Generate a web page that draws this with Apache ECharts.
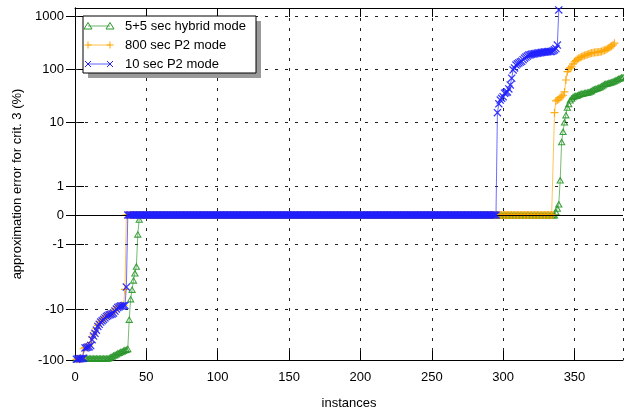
<!DOCTYPE html>
<html>
<head>
<meta charset="utf-8">
<script src="https://cdn.jsdelivr.net/npm/echarts@6/dist/echarts.min.js"></script>
<style>
  html, body { margin: 0; padding: 0; background: #fff; }
  #chart { width: 624px; height: 415px; }
</style>
</head>
<body>
<div id="chart"></div>
<script>
// y tick values and where they sit on the (pixel-like) transformed axis
const tickVals = [-100, -10, -1, 0, 1, 10, 100, 1000];
const tickPos = [-145, -94, -29, 0, 29, 93, 146, 199];

const seriesNames = ['5+5 sec hybrid mode', '800 sec P2 mode', '10 sec P2 mode'];

// errors per instance (%), sorted, instance 1..n
const hybridVals = [
  ...Array(23).fill(-92),
  -90, -87, -84, -81, -79, -76, -73, -71, -69, -67, -65, -63, -62, -60,
  -16, -7, -5, -3.6, -2.8, -2.2, -0.66, -0.15,
  ...Array(291).fill(0),
  0.11, 0.23, 0.38, 1.24, 4.9, 7.1, 10, 13.6, 19, 22, 26, 28, 30, 31, 31.5, 32,
  33, 34, 34.5, 35, 35.5, 36, 36.5, 37, 38, 39, 41, 42, 43, 44, 45, 46,
  48, 50, 52, 53, 54, 55, 56, 57, 59, 60, 62, 64, 66, 68, 70, 71
];
const p2longVals = [
  -97, -96, -95, -94, -92, -60, -57, -56, -55, -53, -45, -36, -32, -28, -24, -21,
  -19, -17.5, -16.5, -15.5, -14.5, -13.8, -13.2, -12.8, -12.5, -12, -11.5, -10.5,
  -9.8, -9.3, -9.1, -9, -8.9, -8.8, -5,
  ...Array(300).fill(0),
  15, 25, 26, 27, 29, 30, 32, 37, 62, 89, 100, 105, 110, 125, 137, 145, 152, 160,
  165, 170, 175, 180, 183, 187, 192, 197, 200, 203, 205, 207, 208, 210, 212, 215,
  220, 225, 230, 240, 250, 260, 270, 285, 307
];
const p2shortVals = [
  -97, -96, -95, -94, -93, -92, -58, -57, -56, -55, -52, -40, -34, -30, -26, -22,
  -20, -18, -17, -16, -15, -14, -13.5, -13, -12.8, -12.5, -12, -11, -10, -9.5,
  -9.2, -9, -9, -8.9, -8.8, -4.6,
  ...Array(259).fill(0),
  15, 22, 26, 28, 30, 35, 36, 37, 42, 50, 67, 96, 105, 119, 125, 130, 135, 140,
  150, 160, 168, 175, 183, 186, 189, 192, 195, 197, 199, 201, 203, 205, 207, 209,
  210, 212, 213, 214, 215, 222, 230, 243, 283, 1300
];

const colors = ['#2a962a', '#ffa500', '#1f1fff'];
const font = 'Liberation Sans, Arial, sans-serif';

// piecewise log scale, linear between -1 and 1
function toPos(v) {
  let k = 0;
  while (k < tickVals.length - 2 && v > tickVals[k + 1]) k++;
  const a = tickVals[k], b = tickVals[k + 1], pa = tickPos[k], pb = tickPos[k + 1];
  if (a === 0 || b === 0) return pa + (v - a) / (b - a) * (pb - pa);
  const la = Math.log10(Math.abs(a)), lb = Math.log10(Math.abs(b)), lv = Math.log10(Math.abs(v));
  return pa + (lv - la) / (lb - la) * (pb - pa);
}
const toData = vals => vals.map((v, i) => [i + 1, toPos(v)]);

const triPath = 'path://M5,0L10,9L0,9Z M5,2.8L2.3,7.6L7.7,7.6Z';
const plusPath = 'path://M4.3,0H5.7V4.3H10V5.7H5.7V10H4.3V5.7H0V4.3H4.3Z';
const crossPath = 'path://M0,1.1L1.1,0L5,3.9L8.9,0L10,1.1L6.1,5L10,8.9L8.9,10L5,6.1L1.1,10L0,8.9L3.9,5Z';

const chart = echarts.init(document.getElementById('chart'));

function lineSeries(idx, vals, symbol, size) {
  return {
    name: seriesNames[idx],
    type: 'line',
    data: toData(vals),
    symbol: symbol,
    symbolSize: size,
    showSymbol: true,
    showAllSymbol: true,
    animation: false,
    itemStyle: { color: colors[idx], opacity: 0.9 },
    lineStyle: { color: colors[idx], width: 1, opacity: 0.65 },
    z: 3 + idx
  };
}

const gridDash = { type: [3, 7], color: '#222', width: 1 };
const yTickAxis = {
  type: 'value', min: -145, max: 207,
  axisLine: { show: true, lineStyle: { color: '#000', width: 1 } },
  axisTick: { show: true, inside: true, length: 9, customValues: tickPos, lineStyle: { color: '#000' } },
  splitLine: { show: false }
};

// legend samples drawn gnuplot-style
const legendRows = [26, 45, 64];
const legendItems = [];
legendItems.push({ type: 'rect', shape: { x: 88, y: 21, width: 173, height: 57 }, style: { fill: '#9a9a9a' }, z: 100 });
legendItems.push({ type: 'rect', shape: { x: 83, y: 16, width: 173, height: 57 }, style: { fill: '#fff', stroke: '#000', lineWidth: 1 }, z: 101 });
legendRows.forEach((y, i) => {
  legendItems.push({ type: 'line', shape: { x1: 88, y1: y, x2: 110, y2: y }, style: { stroke: colors[i], lineWidth: 1, opacity: 0.7 }, z: 102 });
  [88, 110].forEach(x => {
    if (i === 0) {
      legendItems.push({ type: 'polygon', shape: { points: [[x, y - 3.5], [x + 4, y + 3], [x - 4, y + 3]] }, style: { fill: 'none', stroke: colors[i], lineWidth: 1 }, z: 103 });
    } else if (i === 1) {
      legendItems.push({ type: 'line', shape: { x1: x - 3.5, y1: y, x2: x + 3.5, y2: y }, style: { stroke: colors[i], lineWidth: 1 }, z: 103 });
      legendItems.push({ type: 'line', shape: { x1: x, y1: y - 3.5, x2: x, y2: y + 3.5 }, style: { stroke: colors[i], lineWidth: 1 }, z: 103 });
    } else {
      legendItems.push({ type: 'line', shape: { x1: x - 3, y1: y - 3, x2: x + 3, y2: y + 3 }, style: { stroke: colors[i], lineWidth: 1 }, z: 103 });
      legendItems.push({ type: 'line', shape: { x1: x - 3, y1: y + 3, x2: x + 3, y2: y - 3 }, style: { stroke: colors[i], lineWidth: 1 }, z: 103 });
    }
  });
  legendItems.push({ type: 'text', x: 125, y: y, style: { text: seriesNames[i], font: '13px ' + font, fill: '#000', verticalAlign: 'middle' }, z: 103 });
});

const option = {
  backgroundColor: '#fff',
  animation: false,
  grid: { left: 75, right: 1, top: 8, bottom: 55, containLabel: false },
  xAxis: [
    {
      type: 'value', min: 0, max: 384, interval: 50,
      name: 'instances', nameLocation: 'middle', nameGap: 37,
      nameTextStyle: { fontFamily: font, fontSize: 13, color: '#000' },
      axisLine: { show: true, onZero: false, lineStyle: { color: '#000', width: 1 } },
      axisTick: { show: true, inside: true, length: 9, lineStyle: { color: '#000' } },
      axisLabel: { fontFamily: font, fontSize: 13, color: '#000', margin: 11, showMaxLabel: false },
      splitLine: { show: true, lineStyle: gridDash }
    },
    {
      type: 'value', min: 0, max: 384, interval: 50, position: 'top',
      axisLine: { show: true, onZero: false, lineStyle: { color: '#000', width: 1 } },
      axisTick: { show: true, inside: true, length: 9, lineStyle: { color: '#000' } },
      axisLabel: { show: false },
      splitLine: { show: false }
    }
  ],
  yAxis: [
    Object.assign({}, yTickAxis, {
      name: 'approximation error for crit. 3 (%)', nameLocation: 'middle', nameGap: 51,
      nameTextStyle: { fontFamily: font, fontSize: 13, color: '#000' },
      axisLabel: {
        fontFamily: font, fontSize: 13, color: '#000', margin: 11,
        customValues: tickPos,
        formatter: v => String(tickVals[tickPos.indexOf(v)])
      }
    }),
    Object.assign({}, yTickAxis, { position: 'right', axisLabel: { show: false } })
  ],
  graphic: legendItems,
  series: [
    {
      type: 'line', data: [], silent: true, z: 1,
      markLine: {
        silent: true, symbol: ['none', 'none'], label: { show: false }, animation: false,
        data: [
          ...[-94, -29, 29, 93, 146, 199].map(p => ({ yAxis: p, lineStyle: gridDash })),
          { yAxis: 0, lineStyle: { type: 'solid', color: '#000', width: 1 } }
        ]
      }
    },
    lineSeries(0, hybridVals, triPath, [8, 7]),
    lineSeries(1, p2longVals, plusPath, 8),
    lineSeries(2, p2shortVals, crossPath, 8)
  ]
};
chart.setOption(option);
</script>
</body>
</html>
